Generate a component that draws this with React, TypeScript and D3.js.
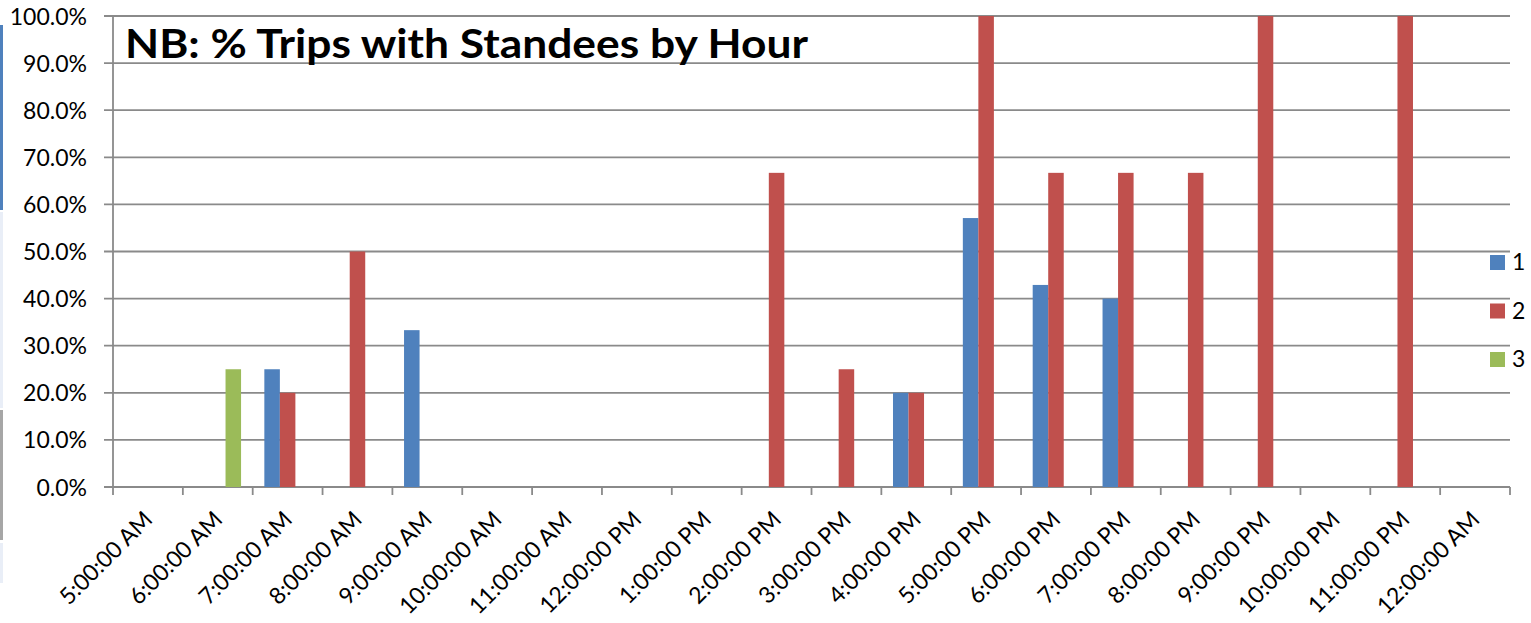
import React from 'react'
import * as d3 from 'd3'

const hours = [
  '5:00:00 AM', '6:00:00 AM', '7:00:00 AM', '8:00:00 AM', '9:00:00 AM',
  '10:00:00 AM', '11:00:00 AM', '12:00:00 PM', '1:00:00 PM', '2:00:00 PM',
  '3:00:00 PM', '4:00:00 PM', '5:00:00 PM', '6:00:00 PM', '7:00:00 PM',
  '8:00:00 PM', '9:00:00 PM', '10:00:00 PM', '11:00:00 PM', '12:00:00 AM'
]
const seriesNames = ['1', '2', '3']
const seriesColors = ['#4f81bd', '#c0504d', '#9bbb59']

// share of trips with standees, by hour (null = no trips)
const series1 = [null, null, 0.25, null, 0.333, null, null, null, null, null, null, 0.2, 0.571, 0.429, 0.4, null, null, null, null, null]
const series2 = [null, null, 0.2, 0.5, null, null, null, null, null, 0.667, 0.25, 0.2, 1, 0.667, 0.667, 0.667, 1, null, 1, null]
const series3 = [null, 0.25, null, null, null, null, null, null, null, null, null, null, null, null, null, null, null, null, null, null]
const yTicks = [0, 0.1, 0.2, 0.3, 0.4, 0.5, 0.6, 0.7, 0.8, 0.9, 1]

const title = 'NB: % Trips with Standees by Hour'

const width = 1531
const height = 623
const margin = { top: 16, left: 113, right: 21, bottom: 136 }
const font = 'Lato, "DejaVu Sans", sans-serif'
const gridColor = '#8a8a8a'

export default function App () {
  const allSeries = [series1, series2, series3]
  const plotW = width - margin.left - margin.right
  const plotH = height - margin.top - margin.bottom

  const x = d3.scaleBand().domain(hours).range([0, plotW]).paddingInner(0).paddingOuter(0)
  const xInner = d3.scaleBand().domain(seriesNames).range([0, x.bandwidth()])
    .paddingInner(0).paddingOuter(0.75)
  const y = d3.scaleLinear().domain([0, 1]).range([plotH, 0])
  const pct = d3.format('.1%')

  const tickXs = hours.map((h) => x(h)).concat([plotW])

  return (
    <svg width={width} height={height} style={{ position: 'absolute', left: 0, top: 0, background: '#fff' }}>
      {/* bits of the spreadsheet showing at the left edge */}
      <rect x={0} y={25} width={3} height={185} fill='#4f81bd' />
      <rect x={0} y={212} width={3} height={196} fill='#e9eef7' />
      <rect x={0} y={410} width={3} height={130} fill='#a6a6a6' />
      <rect x={0} y={543} width={3} height={40} fill='#e9eef7' />

      <g transform={`translate(${margin.left},${margin.top})`}>
        {yTicks.map((t) => (
          <g key={t}>
            <line x1={-9} x2={plotW} y1={y(t)} y2={y(t)} stroke={gridColor} strokeWidth={1.8} />
            <text x={-26} y={y(t) + 8.5} textAnchor='end' fontFamily={font} fontSize={23} fill='#000'>
              {pct(t)}
            </text>
          </g>
        ))}
        <line x1={0} x2={0} y1={0} y2={plotH} stroke={gridColor} strokeWidth={1.8} />
        {tickXs.map((tx, i) => (
          <line key={i} x1={tx} x2={tx} y1={plotH} y2={plotH + 8} stroke={gridColor} strokeWidth={1.8} />
        ))}

        {allSeries.map((values, si) => (
          <g key={si} fill={seriesColors[si]}>
            {values.map((v, i) => v == null ? null : (
              <rect
                key={i}
                x={x(hours[i]) + xInner(seriesNames[si])}
                y={y(v)}
                width={xInner.bandwidth()}
                height={plotH - y(v)}
              />
            ))}
          </g>
        ))}

        {hours.map((h) => {
          const cx = x(h) + x.bandwidth() / 2 + 6
          const cy = plotH + 34
          return (
            <text key={h} x={cx} y={cy} transform={`rotate(-45,${cx},${cy})`}
              textAnchor='end' fontFamily={font} fontSize={23} fill='#000'>
              {h}
            </text>
          )
        })}
      </g>

      <text x={125} y={58} fontFamily={font} fontWeight='bold' fontSize={40}
        textLength={683} lengthAdjust='spacingAndGlyphs' fill='#000'>
        {title}
      </text>

      <g transform='translate(1490,255)'>
        {seriesNames.map((s, i) => (
          <g key={s} transform={`translate(0,${i * 48.5})`}>
            <rect x={0} y={0} width={15} height={15} fill={seriesColors[i]} />
            <text x={22} y={15} fontFamily={font} fontSize={23} fill='#000'>{s}</text>
          </g>
        ))}
      </g>
    </svg>
  )
}
